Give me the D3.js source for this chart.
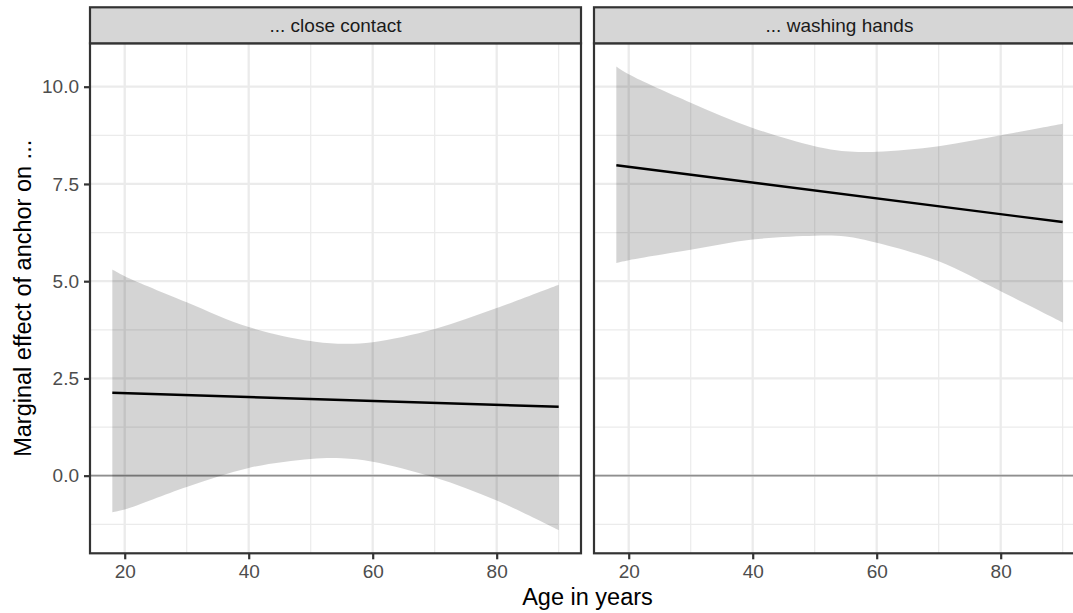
<!DOCTYPE html>
<html>
<head>
<meta charset="utf-8">
<script src="https://cdn.jsdelivr.net/npm/d3@7"></script>
<style>
  html, body { margin: 0; padding: 0; background: #fff; }
  svg { display: block; overflow: hidden; }
  text { font-family: "Liberation Sans", Arial, Helvetica, sans-serif; }
</style>
</head>
<body>
<svg id="chart" width="1073" height="613"></svg>
<script>
// ---- data ----
const panels = ["... close contact", "... washing hands"];
const ages = [18, 20, 30, 40, 50, 55, 60, 70, 80, 90];
const upperClose = [5.30, 5.13, 4.46, 3.82, 3.46, 3.39, 3.43, 3.77, 4.31, 4.91];
const lowerClose = [-0.94, -0.87, -0.29, 0.20, 0.43, 0.45, 0.36, -0.05, -0.64, -1.40];
const upperWash  = [10.52, 10.32, 9.59, 8.94, 8.47, 8.34, 8.33, 8.47, 8.75, 9.05];
const lowerWash  = [5.47, 5.54, 5.81, 6.07, 6.17, 6.15, 5.99, 5.51, 4.74, 3.94];
const lineAges = [18, 90];
const lineClose = [2.13, 1.77];
const lineWash = [7.98, 6.52];
const xTicks = [20, 40, 60, 80];
const xMinor = [30, 50, 70, 90];
const yTicks = [0, 2.5, 5, 7.5, 10];
const yTickLabels = ["0.0", "2.5", "5.0", "7.5", "10.0"];
const yMinor = [-1.25, 1.25, 3.75, 6.25, 8.75];
const refLine = 0;
const xTitle = "Age in years";
const yTitle = "Marginal effect of anchor on ...";

const series = [
  { name: panels[0], upper: upperClose, lower: lowerClose, line: lineClose },
  { name: panels[1], upper: upperWash,  lower: lowerWash,  line: lineWash }
];

// ---- layout ----
const svg = d3.select("#chart");
const panelTop = 43.3, panelBottom = 553.3, stripTop = 7.3;
const panelLefts = [90, 594];
const panelWidth = 491;

// scales (ggplot-style 5% expansion)
const xExt = d3.extent(ages);
const xPad = (xExt[1] - xExt[0]) * 0.05;
const allY = [].concat(upperClose, lowerClose, upperWash, lowerWash);
const yExt = d3.extent(allY);
const yPad = (yExt[1] - yExt[0]) * 0.05;
const y = d3.scaleLinear().domain([yExt[0] - yPad, yExt[1] + yPad]).range([panelBottom, panelTop]);

const gridColor = "#ebebeb";
const darkLine = "#333333";

series.forEach((s, i) => {
  const left = panelLefts[i];
  const x = d3.scaleLinear().domain([xExt[0] - xPad, xExt[1] + xPad]).range([left, left + panelWidth]);
  const g = svg.append("g");

  // background
  g.append("rect").attr("x", left).attr("y", panelTop).attr("width", panelWidth)
    .attr("height", panelBottom - panelTop).attr("fill", "#fff");

  // minor grid
  g.selectAll(".xminor").data(xMinor.filter(v => v >= x.domain()[0] && v <= x.domain()[1])).join("line")
    .attr("x1", d => x(d)).attr("x2", d => x(d)).attr("y1", panelTop).attr("y2", panelBottom)
    .attr("stroke", gridColor).attr("stroke-width", 1.2);
  g.selectAll(".yminor").data(yMinor.filter(v => v >= y.domain()[0] && v <= y.domain()[1])).join("line")
    .attr("x1", left).attr("x2", left + panelWidth).attr("y1", d => y(d)).attr("y2", d => y(d))
    .attr("stroke", gridColor).attr("stroke-width", 1.2);
  // major grid
  g.selectAll(".xmajor").data(xTicks).join("line")
    .attr("x1", d => x(d)).attr("x2", d => x(d)).attr("y1", panelTop).attr("y2", panelBottom)
    .attr("stroke", gridColor).attr("stroke-width", 2.3);
  g.selectAll(".ymajor").data(yTicks).join("line")
    .attr("x1", left).attr("x2", left + panelWidth).attr("y1", d => y(d)).attr("y2", d => y(d))
    .attr("stroke", gridColor).attr("stroke-width", 2.3);

  // reference line at 0
  g.append("line").attr("x1", left).attr("x2", left + panelWidth)
    .attr("y1", y(refLine)).attr("y2", y(refLine))
    .attr("stroke", "#8f8f8f").attr("stroke-width", 1.8);

  // ribbon
  const area = d3.area()
    .x((d, j) => x(ages[j]))
    .y0((d, j) => y(s.lower[j]))
    .y1((d, j) => y(s.upper[j]))
    .curve(d3.curveCatmullRom.alpha(0.5));
  g.append("path").attr("d", area(ages)).attr("fill", "#000").attr("fill-opacity", 0.17);

  // fitted line
  const line = d3.line().x((d, j) => x(lineAges[j])).y((d, j) => y(s.line[j]));
  g.append("path").attr("d", line(lineAges)).attr("fill", "none")
    .attr("stroke", "#000").attr("stroke-width", 2.4);

  // panel border
  g.append("rect").attr("x", left).attr("y", panelTop).attr("width", panelWidth)
    .attr("height", panelBottom - panelTop).attr("fill", "none")
    .attr("stroke", darkLine).attr("stroke-width", 2.2);

  // strip
  g.append("rect").attr("x", left).attr("y", stripTop).attr("width", panelWidth)
    .attr("height", panelTop - stripTop).attr("fill", "#d6d6d6")
    .attr("stroke", darkLine).attr("stroke-width", 2.2);
  g.append("text").attr("x", left + panelWidth / 2).attr("y", (stripTop + panelTop) / 2)
    .attr("dy", "0.35em").attr("text-anchor", "middle")
    .attr("font-size", 19).attr("fill", "#1a1a1a").text(s.name);

  // x axis ticks and labels
  const xAxis = d3.axisBottom(x).tickValues(xTicks).tickSize(6).tickPadding(5).tickFormat(d3.format("d"));
  const ax = g.append("g").attr("transform", `translate(0,${panelBottom})`).call(xAxis);
  ax.select(".domain").remove();
  ax.selectAll(".tick line").attr("stroke", darkLine).attr("stroke-width", 2.2);
  ax.selectAll(".tick text").attr("font-size", 19).attr("fill", "#4d4d4d")
    .attr("font-family", "Liberation Sans, Arial, sans-serif");

  // y axis only on left panel
  if (i === 0) {
    const yAxis = d3.axisLeft(y).tickValues(yTicks).tickSize(6).tickPadding(5)
      .tickFormat((d, k) => yTickLabels[k]);
    const ay = g.append("g").attr("transform", `translate(${left},0)`).call(yAxis);
    ay.select(".domain").remove();
    ay.selectAll(".tick line").attr("stroke", darkLine).attr("stroke-width", 2.2);
    ay.selectAll(".tick text").attr("font-size", 19).attr("fill", "#4d4d4d")
      .attr("font-family", "Liberation Sans, Arial, sans-serif");
  }
});

// axis titles
svg.append("text").attr("x", (panelLefts[0] + panelLefts[1] + panelWidth) / 2).attr("y", 605)
  .attr("text-anchor", "middle").attr("font-size", 23.5).attr("fill", "#000").text(xTitle);
svg.append("text")
  .attr("transform", `translate(31,${(panelTop + panelBottom) / 2}) rotate(-90)`)
  .attr("text-anchor", "middle").attr("font-size", 23.5).attr("fill", "#000").text(yTitle);
</script>
</body>
</html>
